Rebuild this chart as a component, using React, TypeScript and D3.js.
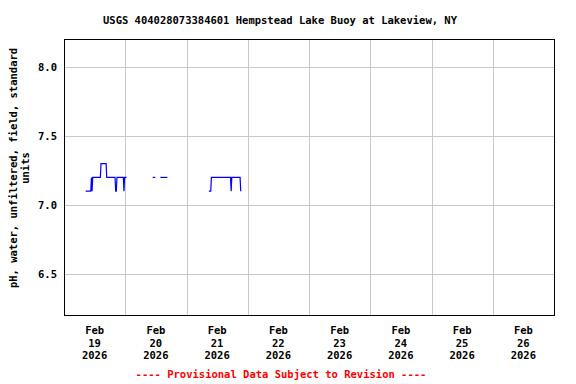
import React from "react";
import * as d3 from "d3";

const title = "USGS 404028073384601 Hempstead Lake Buoy at Lakeview, NY";
const yTitle1 = "pH, water, unfiltered, field, standard";
const yTitle2 = "units";
const footer = "---- Provisional Data Subject to Revision ----";

const times: string[] = [
  "2026-02-19T08:30", "2026-02-19T10:30", "2026-02-19T10:45", "2026-02-19T11:00", "2026-02-19T11:15",
  "2026-02-19T14:15", "2026-02-19T14:30", "2026-02-19T16:30", "2026-02-19T16:45", "2026-02-19T20:00",
  "2026-02-19T20:15", "2026-02-19T20:30", "2026-02-19T20:45", "2026-02-19T23:15", "2026-02-19T23:30",
  "2026-02-19T23:45", "2026-02-20T00:30",
  "2026-02-20T10:45", "2026-02-20T11:45",
  "2026-02-20T13:45", "2026-02-20T16:30",
  "2026-02-21T08:45", "2026-02-21T09:30", "2026-02-21T09:45", "2026-02-21T17:15", "2026-02-21T17:30",
  "2026-02-21T17:45", "2026-02-21T21:00", "2026-02-21T21:15",
];
const values: number[] = [
  7.1, 7.1, 7.2, 7.1, 7.2,
  7.2, 7.3, 7.3, 7.2, 7.2,
  7.1, 7.1, 7.2, 7.2, 7.1,
  7.2, 7.2,
  7.2, 7.2,
  7.2, 7.2,
  7.1, 7.1, 7.2, 7.2, 7.1,
  7.2, 7.2, 7.1,
];
// record run (continuous stretch) each reading belongs to
const runs: number[] = [
  0, 0, 0, 0, 0,
  0, 0, 0, 0, 0,
  0, 0, 0, 0, 0,
  0, 0,
  1, 1,
  2, 2,
  3, 3, 3, 3, 3,
  3, 3, 3,
];

const yTicks = [6.5, 7.0, 7.5, 8.0];
const dayStarts = ["2026-02-19", "2026-02-20", "2026-02-21", "2026-02-22", "2026-02-23", "2026-02-24", "2026-02-25", "2026-02-26", "2026-02-27"];
const dayLabels = ["19", "20", "21", "22", "23", "24", "25", "26"];
const monthLabel = "Feb";
const yearLabel = "2026";

const W = 576, H = 384;
const left = 64, right = 554, top = 39, bottom = 315;
const FONT = "'DejaVu Sans Mono', monospace";

export default function App() {
  const parseT = d3.utcParse("%Y-%m-%dT%H:%M");
  const parseD = d3.utcParse("%Y-%m-%d");
  const x = d3.scaleUtc()
    .domain([parseD(dayStarts[0])!, parseD(dayStarts[dayStarts.length - 1])!])
    .range([left, right]);
  const y = d3.scaleLinear().domain([6.203, 8.203]).range([bottom, top]);

  const pts = times.map((t, i) => ({ t: parseT(t)!, v: values[i], r: runs[i] }));
  const segs = Array.from(d3.group(pts, (p) => p.r).values());
  const line = d3.line<{ t: Date; v: number }>().x((d) => x(d.t)).y((d) => y(d.v));

  const days = dayStarts.map((d) => parseD(d)!);

  return (
    <svg width={W} height={H} style={{ position: "absolute", left: 0, top: 0, background: "#fff" }} fontFamily={FONT} fontWeight="bold">
      <rect x={0} y={0} width={W} height={H} fill="#fff" />
      <text x={280} y={24} textAnchor="middle" fontSize={10.5} fill="#000">{title}</text>
      {yTicks.map((t) => (
        <line key={"gy" + t} x1={left} x2={right} y1={Math.round(y(t)) + 0.5} y2={Math.round(y(t)) + 0.5} stroke="#c8c8c8" strokeWidth={1} />
      ))}
      {days.slice(1, -1).map((d, i) => (
        <line key={"gx" + i} x1={Math.round(x(d)) + 0.5} x2={Math.round(x(d)) + 0.5} y1={top} y2={bottom} stroke="#c8c8c8" strokeWidth={1} />
      ))}
      {segs.map((s, i) => (
        <path key={"s" + i} d={line(s) || ""} fill="none" stroke="#0000ff" strokeWidth={1.2} />
      ))}
      <rect x={left + 0.5} y={top + 0.5} width={right - left} height={bottom - top} fill="none" stroke="#000" strokeWidth={1} />
      {yTicks.map((t) => (
        <text key={"ty" + t} x={57} y={y(t) + 4} textAnchor="end" fontSize={10.5} fill="#000">{t.toFixed(1)}</text>
      ))}
      {days.slice(0, -1).map((d, i) => {
        const cx = x(new Date(+d + 12 * 3600 * 1000));
        return (
          <text key={"tx" + i} textAnchor="middle" fontSize={10.5} fill="#000">
            <tspan x={cx} y={334}>{monthLabel}</tspan>
            <tspan x={cx} y={347}>{dayLabels[i]}</tspan>
            <tspan x={cx} y={359}>{yearLabel}</tspan>
          </text>
        );
      })}
      <text transform={`translate(17,168) rotate(-90)`} textAnchor="middle" fontSize={10.5} fill="#000">{yTitle1}</text>
      <text transform={`translate(29,168) rotate(-90)`} textAnchor="middle" fontSize={10.5} fill="#000">{yTitle2}</text>
      <text x={281} y={378} textAnchor="middle" fontSize={10.5} fill="#ff0000">{footer}</text>
    </svg>
  );
}
